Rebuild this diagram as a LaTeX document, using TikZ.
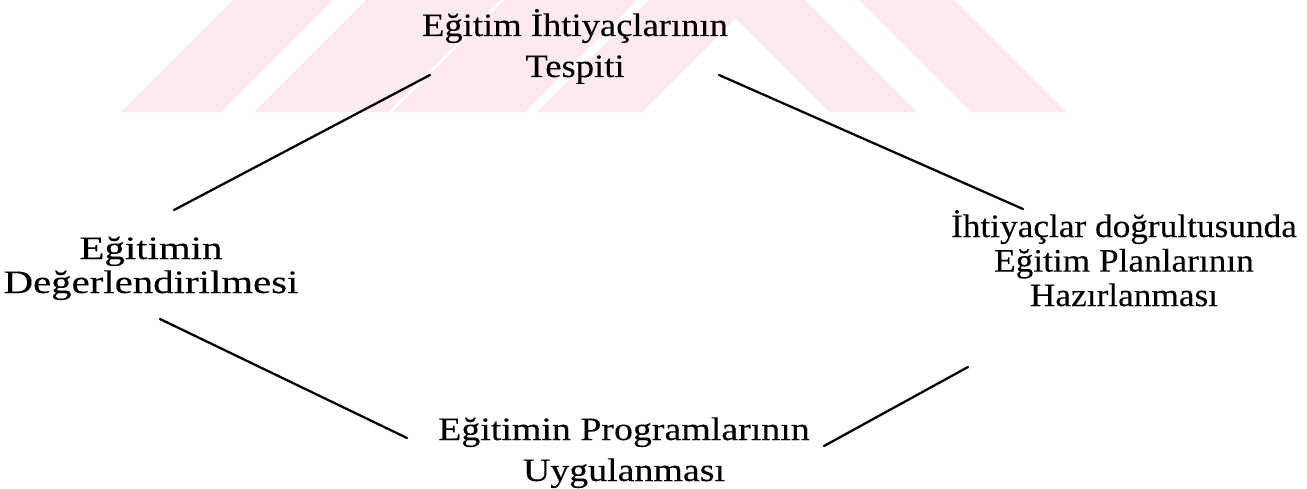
\documentclass[tikz,border=0pt]{standalone}
\usepackage{graphicx}
\usepackage{fontspec}
\setmainfont[FakeBold=0.15]{Liberation Serif}
\definecolor{wmpink}{RGB}{252,234,238}
% centred multi-line label, widened by #1, whose baseline is that of its first line
\newcommand\stacktxt[2]{\scalebox{#1}[1]{\parbox[t]{420pt}{\centering #2}}}
\begin{document}
\begin{tikzpicture}[x=0.75pt,y=-0.75pt,
  wmband/.style={fill=wmpink,draw=none},
  lblbase/.style={inner sep=0pt,anchor=base},
  lbltop/.style={lblbase,font=\fontsize{24.5}{30.75}\selectfont},
  lblbottom/.style={lblbase,font=\fontsize{24.5}{30.75}\selectfont},
  lblright/.style={lblbase,font=\fontsize{24.5}{25.9}\selectfont},
  lblleft/.style={lblbase,font=\fontsize{24.5}{25.5}\selectfont},
  link/.style={line width=1.7pt,line cap=round}]
\useasboundingbox (0,0) rectangle (1307,489);

% light diagonal bands along the top
\fill[wmband] (121,112) -- (221,112) -- (333,0) -- (233,0) -- cycle;
\fill[wmband] (254,112) -- (388,112) -- (500,0) -- (366,0) -- cycle;
\fill[wmband] (392,112) -- (525,112) -- (637,0) -- (504,0) -- cycle;
\fill[wmband] (537,112) -- (642,112) -- (754,0) -- (649,0) -- cycle;
\fill[wmband] (717,0) -- (805,0) -- (917,112) -- (829,112) -- cycle;
\fill[wmband] (859,0) -- (955,0) -- (1067,112) -- (971,112) -- cycle;

% the four stages of the cycle
\node[lbltop] (tespit) at (575,36)
  {\stacktxt{1.12}{Eğitim İhtiyaçlarının\\Tespiti}};
\node[lblright] (plan) at (1124,237)
  {\stacktxt{1.08}{İhtiyaçlar doğrultusunda\\Eğitim Planlarının\\Hazırlanması}};
\node[lblbottom] (uygula) at (624,440)
  {\stacktxt{1.16}{Eğitimin Programlarının\\Uygulanması}};
\node[lblleft] (deger) at (151,259)
  {\stacktxt{1.25}{Eğitimin\\Değerlendirilmesi}};

% connector end points around the labels
\coordinate (tespitW) at (430,75);
\coordinate (tespitE) at (719,75);
\coordinate (planN)   at (1023,209);
\coordinate (planS)   at (968,367);
\coordinate (uygulaE) at (824,446);
\coordinate (uygulaW) at (407,438);
\coordinate (degerS)  at (160,319);
\coordinate (degerN)  at (174,210);

\draw[link] (tespitE) -- (planN);
\draw[link] (planS) -- (uygulaE);
\draw[link] (uygulaW) -- (degerS);
\draw[link] (degerN) -- (tespitW);
\end{tikzpicture}
\end{document}
